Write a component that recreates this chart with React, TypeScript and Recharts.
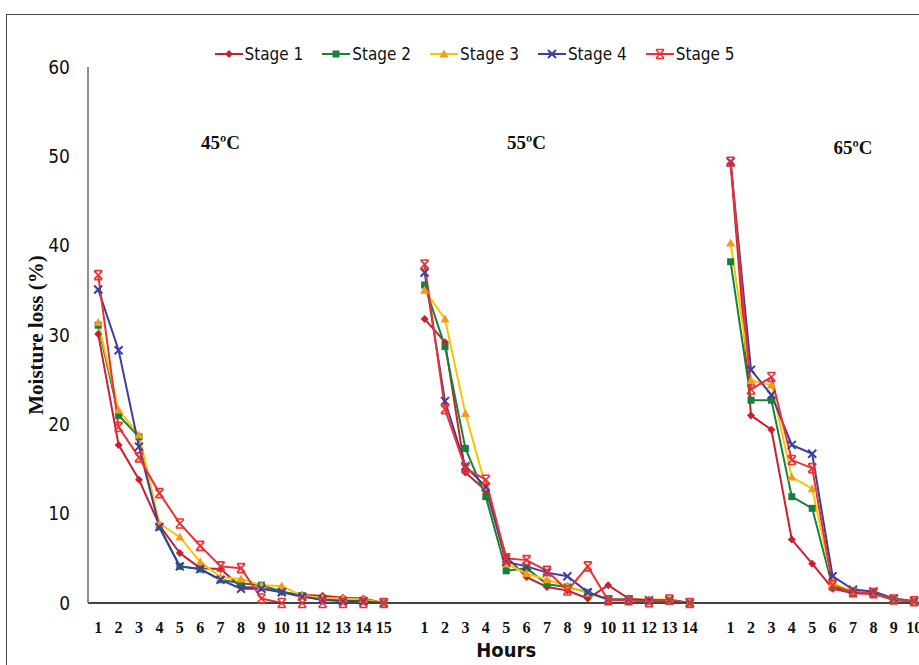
import { LineChart, Line, XAxis, YAxis, ReferenceDot } from 'recharts'

// hours per temperature block
const hours45 = [1, 2, 3, 4, 5, 6, 7, 8, 9, 10, 11, 12, 13, 14, 15]
const hours55 = [1, 2, 3, 4, 5, 6, 7, 8, 9, 10, 11, 12, 13, 14]
const hours65 = [1, 2, 3, 4, 5, 6, 7, 8, 9, 10]

const stage1_45 = [30.1, 17.7, 13.8, 8.7, 5.6, 3.9, 3.8, 1.8, 1.7, 1.2, 0.9, 0.8, 0.6, 0.5, 0]
const stage2_45 = [31.1, 21.0, 18.6, 8.5, 4.1, 3.8, 2.6, 2.2, 2.0, 1.3, 0.8, 0.3, 0.3, 0.3, 0]
const stage3_45 = [31.4, 21.6, 18.8, 8.9, 7.4, 4.6, 2.9, 2.7, 2.0, 1.9, 0.8, 0.6, 0.5, 0.4, 0]
const stage4_45 = [35.1, 28.3, 17.5, 8.5, 4.1, 3.8, 2.6, 1.6, 1.6, 1.2, 0.7, 0.4, 0.2, 0.2, 0]
const stage5_45 = [36.7, 19.7, 16.3, 12.3, 8.9, 6.4, 4.1, 3.9, 0.5, 0, 0, 0, 0, 0, 0]

const stage1_55 = [31.8, 29.2, 14.6, 12.6, 5.2, 2.9, 1.8, 1.4, 0.5, 2.0, 0.5, 0.3, 0.3, 0]
const stage2_55 = [35.6, 28.7, 17.3, 11.9, 3.6, 3.9, 2.1, 1.8, 1.2, 0.4, 0.4, 0.2, 0.2, 0]
const stage3_55 = [35.0, 31.8, 21.2, 13.0, 4.4, 3.3, 2.6, 1.9, 1.1, 0.4, 0.4, 0.4, 0.4, 0]
const stage4_55 = [37.0, 22.6, 15.3, 13.0, 4.6, 4.1, 3.4, 3.0, 1.2, 0.4, 0.4, 0.3, 0.3, 0]
const stage5_55 = [37.9, 21.7, 15.1, 13.8, 5.0, 4.8, 3.6, 1.4, 4.1, 0.3, 0.3, 0.1, 0.4, 0]

const stage1_65 = [49.2, 21.0, 19.4, 7.1, 4.4, 1.6, 1.1, 1.0, 0.4, 0.2]
const stage2_65 = [38.2, 22.7, 22.7, 11.9, 10.6, 1.8, 1.2, 1.1, 0.3, 0.2]
const stage3_65 = [40.3, 24.9, 24.4, 14.1, 12.8, 2.2, 1.3, 1.2, 0.5, 0.2]
const stage4_65 = [49.4, 26.1, 23.3, 17.7, 16.7, 3.0, 1.5, 1.3, 0.5, 0.2]
const stage5_65 = [49.4, 23.9, 25.3, 16.0, 15.1, 2.0, 1.2, 1.1, 0.4, 0.2]

const yTicks = [0, 10, 20, 30, 40, 50, 60]

const groups = [
  { id: '45', label: '45ºC', hours: hours45, labelHour: 7, labelY: 51.6 },
  { id: '55', label: '55ºC', hours: hours55, labelHour: 6, labelY: 51.6 },
  { id: '65', label: '65ºC', hours: hours65, labelHour: 7, labelY: 51.0 },
]

const stages = [
  { key: 's1', name: 'Stage 1', color: '#c8202f', marker: '#c8202f', shape: 'diamond', values: [stage1_45, stage1_55, stage1_65] },
  { key: 's2', name: 'Stage 2', color: '#17813a', marker: '#17813a', shape: 'square', values: [stage2_45, stage2_55, stage2_65] },
  { key: 's3', name: 'Stage 3', color: '#f7c600', marker: '#f59a1e', shape: 'triangle', values: [stage3_45, stage3_55, stage3_65] },
  { key: 's4', name: 'Stage 4', color: '#3a3fa0', marker: '#3a3fa0', shape: 'x', values: [stage4_45, stage4_55, stage4_65] },
  { key: 's5', name: 'Stage 5', color: '#ee3030', marker: '#ee3030', shape: 'star', values: [stage5_45, stage5_55, stage5_65] },
]

// one row per hour, plus an empty category between blocks so the lines break
const rows: any[] = []
groups.forEach((g, gi) => {
  g.hours.forEach((h, hi) => {
    const row: any = { key: `${g.id}-${h}`, hour: String(h) }
    stages.forEach(s => { row[s.key] = s.values[gi][hi] })
    rows.push(row)
  })
  if (gi < groups.length - 1) {
    const gap: any = { key: `gap-${g.id}`, hour: '' }
    stages.forEach(s => { gap[s.key] = null })
    rows.push(gap)
  }
})

const sansNarrow = '"DejaVu Sans Condensed", "DejaVu Sans", sans-serif'
const serif = '"Liberation Serif", "DejaVu Serif", serif'

function Marker({ cx, cy, shape, color }: any) {
  if (cx == null || cy == null) return null
  switch (shape) {
    case 'diamond':
      return <polygon points={`${cx},${cy - 4} ${cx + 4},${cy} ${cx},${cy + 4} ${cx - 4},${cy}`} fill={color} />
    case 'square':
      return <rect x={cx - 3.5} y={cy - 3.5} width={7} height={7} fill={color} />
    case 'triangle':
      return <polygon points={`${cx},${cy - 4.5} ${cx + 4.5},${cy + 3.5} ${cx - 4.5},${cy + 3.5}`} fill={color} />
    case 'x':
      return <path d={`M${cx - 4},${cy - 4}L${cx + 4},${cy + 4}M${cx + 4},${cy - 4}L${cx - 4},${cy + 4}`} stroke={color} strokeWidth={2} fill="none" />
    default:
      return (
        <path
          d={`M${cx - 4},${cy - 4}L${cx + 4},${cy + 4}M${cx + 4},${cy - 4}L${cx - 4},${cy + 4}M${cx - 4},${cy - 4.5}L${cx + 4},${cy - 4.5}M${cx - 4},${cy + 4.5}L${cx + 4},${cy + 4.5}`}
          stroke={color}
          strokeWidth={1.6}
          fill="none"
        />
      )
  }
}

function LegendRow() {
  return (
    <div style={{ position: 'absolute', left: 0, top: 44, width: 948, display: 'flex', justifyContent: 'center', gap: 18 }}>
      {stages.map(s => (
        <div key={s.key} style={{ display: 'flex', alignItems: 'center' }}>
          <svg width={30} height={14}>
            <line x1={1} y1={7} x2={29} y2={7} stroke={s.color} strokeWidth={2} />
            <Marker cx={15} cy={7} shape={s.shape} color={s.marker} />
          </svg>
          <span style={{ fontFamily: sansNarrow, fontSize: 17, color: '#111', marginLeft: 1 }}>{s.name}</span>
        </div>
      ))}
    </div>
  )
}

// rotated y-axis title, centred on the plot height
function YTitle({ viewBox }: any) {
  const cx = 36
  const cy = viewBox.y + viewBox.height / 2
  return (
    <text x={cx} y={cy} transform={`rotate(-90, ${cx}, ${cy})`} textAnchor="middle" dominantBaseline="central"
      fill="#111" fontSize={21} fontWeight={700} fontFamily={serif}>
      Moisture loss (%)
    </text>
  )
}

export default function App() {
  return (
    <div style={{ position: 'fixed', left: 0, top: 0, width: 919, height: 665, overflow: 'hidden', background: '#fff' }}>
      <div style={{ position: 'absolute', left: 6, top: 14, width: 1000, height: 800, border: '1.5px solid #444' }} />
      <LegendRow />
      <div style={{ position: 'absolute', left: 0, top: 0 }}>
        <LineChart width={930} height={665} data={rows} margin={{ top: 67, right: 5.6, left: 0, bottom: 32 }}>
          <XAxis
            dataKey="key"
            interval={0}
            height={30}
            padding={{ left: 10.2, right: 10.2 }}
            tickFormatter={(v: string) => rows.find(r => r.key === v)?.hour ?? ''}
            tickLine={false}
            tickSize={6}
            tickMargin={13}
            axisLine={{ stroke: '#444', strokeWidth: 2 }}
            tick={{ fill: '#111', fontSize: 16, fontWeight: 700, fontFamily: serif }}
            label={{ value: 'Hours', position: 'insideBottom', offset: -24, fill: '#111', fontSize: 20, fontWeight: 700, fontFamily: sansNarrow }}
          />
          <YAxis
            width={88}
            domain={[0, 60]}
            ticks={yTicks}
            tickLine={false}
            tickSize={10}
            tickMargin={8}
            axisLine={{ stroke: '#666', strokeWidth: 1.5 }}
            tick={{ fill: '#111', fontSize: 19, fontFamily: sansNarrow }}
            label={YTitle}
          />
          {stages.map(s => (
            <Line
              key={s.key}
              dataKey={s.key}
              name={s.name}
              type="linear"
              stroke={s.color}
              strokeWidth={2}
              isAnimationActive={false}
              dot={(p: any) => <Marker key={`${s.key}-${p.index}`} cx={p.cx} cy={p.cy} shape={s.shape} color={s.marker} />}
              activeDot={false}
            />
          ))}
          {groups.map(g => (
            <ReferenceDot
              key={g.id}
              x={`${g.id}-${g.labelHour}`}
              y={g.labelY}
              r={0}
              fill="none"
              stroke="none"
              label={{ value: g.label, position: 'center', fill: '#111', fontSize: 19, fontWeight: 700, fontFamily: serif }}
            />
          ))}
        </LineChart>
      </div>
    </div>
  )
}
